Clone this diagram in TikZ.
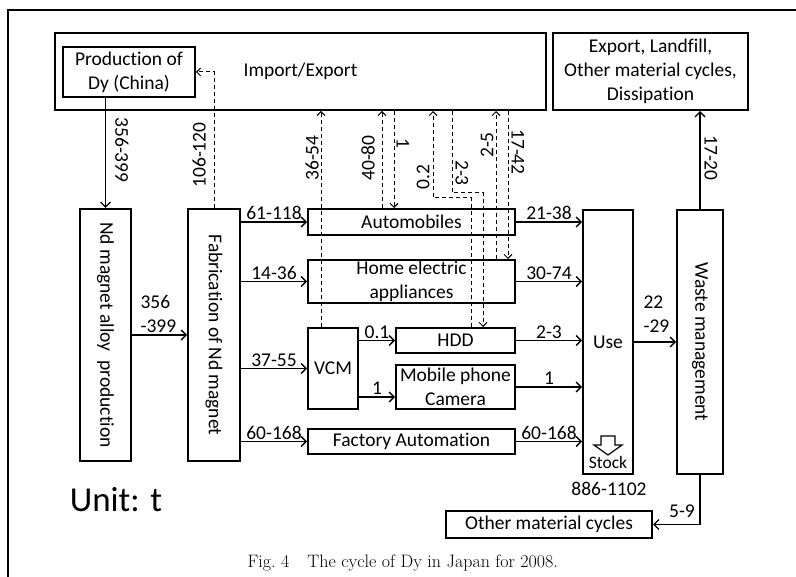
\documentclass[tikz,border=0pt]{standalone}
\usepackage{fontspec}
\newfontfamily\carlito{Carlito}[Ligatures=NoCommon]
\usetikzlibrary{arrows.meta,positioning,calc}

\begin{document}
\begin{tikzpicture}[
      x=1pt,y=-1pt,
      every node/.style={font=\carlito\fontsize{19.5}{24}\selectfont},
      box/.style={draw,line width=2pt,inner sep=0pt},
      arr/.style={-{Straight Barb[length=5pt,width=10pt]},line width=1.3pt},
      darr/.style={-{Straight Barb[length=4pt,width=8pt]},line width=1pt,dash pattern=on 4pt off 3pt},
      lab/.style={inner sep=1.5pt}
    ]
      \useasboundingbox (0,0) rectangle (796,577);
      \draw[line width=2pt] (8,577) -- (8,10) -- (796,10);

      % top row
      \node[box,minimum width=491,minimum height=77] (imex) at (300.5,71.5) {Import/Export};
      \node[box,minimum width=132,minimum height=50,align=center] (prod) at (129,72) {Production of\\Dy (China)};
      \node[box,minimum width=195,minimum height=77,align=center] (dest) at (650.5,71.5) {Export, Landfill,\\Other material cycles,\\Dissipation};

      % tall boxes
      \node[box,minimum width=51,minimum height=252] (alloy) at (105.5,335) {};
      \node[rotate=-90] (alloylab) at (alloy) {Nd magnet alloy\ \ production};
      \node[box,minimum width=52,minimum height=252] (fab) at (214,335) {};
      \node[rotate=-90] (fablab) at (fab) {Fabrication of Nd magnet};
      \node[box,minimum width=50,minimum height=264] (use) at (608,342) {Use};
      \node[box,minimum width=46,minimum height=264] (waste) at (700,342) {};
      \node[rotate=-90] (wastelab) at (waste) {Waste management};

      % products
      \node[box,minimum width=207,minimum height=26] (auto) at (411.5,222) {Automobiles};
      \node[box,minimum width=207,minimum height=43] (home) at (411.5,281.5) {};
      \node[align=center] (homelab) at (home) {Home electric\\appliances};
      \node[box,minimum width=50,minimum height=81] (vcm) at (333,368.5) {VCM};
      \node[box,minimum width=119,minimum height=25] (hdd) at (455.5,340.5) {HDD};
      \node[box,minimum width=119,minimum height=44] (mobile) at (455.5,387) {};
      \node[align=center] (mobilelab) at (mobile) {Mobile phone\\Camera};
      \node[box,minimum width=207,minimum height=25] (fa) at (411.5,441.5) {Factory Automation};
      \node[box,minimum width=206,minimum height=27] (other) at (549,524.5) {Other material cycles};

      % main flows
      \draw[arr] (prod.south -| alloy) -- (alloy);
      \node[rotate=-90] (l356) at (122,150) {356-399};
      \draw[arr] (alloy) -- (fab);
      \node[align=left,anchor=west] (l356b) at (137,314) {356\\-399};
      \draw[arr] (fab.east |- auto) -- node[above,lab] (l61) {61-118} (auto);
      \draw[arr] (fab.east |- home) -- node[above,lab] (l14) {14-36} (home);
      \draw[arr] (fab.east |- vcm) -- node[above,lab] (l37) {37-55} (vcm);
      \draw[arr] (fab.east |- fa) -- node[above,lab] (l60) {60-168} (fa);
      \draw[arr] (vcm.east |- hdd) -- node[above,lab] (l01) {0.1} (hdd);
      \coordinate (mm) at ($(mobile.west)+(0,10)$);
      \draw[arr] (vcm.east |- mm) -- node[above,lab] (l1a) {1} (mm);
      \draw[arr] (auto) -- node[above,lab] (l21) {21-38} (auto -| use.west);
      \draw[arr] (home) -- node[above,lab] (l30) {30-74} (home -| use.west);
      \draw[arr] (hdd) -- node[above,lab] (l23) {2-3} (hdd -| use.west);
      \draw[arr] (mobile) -- node[above,lab] (l1b) {1} (mobile -| use.west);
      \draw[arr] (fa) -- node[above,lab] (l60b) {60-168} (fa -| use.west);
      \draw[arr] (use) -- (waste);
      \node[align=left,anchor=west] (l22) at (640,314) {22\\-29};
      \draw[arr] (waste) -- (waste |- dest.south);
      \node[rotate=-90] (l17) at (711,158) {17-20};
      \draw[arr] (waste) |- (other);
      \node (l59) at (682,511) {5-9};

      % stock
      \draw[line width=1.2pt] (601,436) -- (615,436) -- (615,445) -- (622,445) -- (608,455) -- (594,445) -- (601,445) -- cycle;
      \node[font=\carlito\fontsize{17.5}{20}\selectfont] (stock) at (608,462) {Stock};
      \node (l886) at (609,489) {886-1102};

      % import / export flows
      \coordinate (d1) at (321,0);
      \coordinate (d2) at (382,0);
      \coordinate (d3) at (394,0);
      \coordinate (d4) at (433,0);
      \coordinate (d5) at (452,0);
      \coordinate (d6) at (496,0);
      \coordinate (d7) at (508,0);
      \coordinate (h1) at (471,198);
      \coordinate (h2) at (483,193);
      \draw[darr] (fab.north) |- (prod.east);
      \node[rotate=90] (l106) at (199,155) {106-120};
      \draw[darr] (vcm.north -| d1) -- (imex.south -| d1);
      \node[rotate=90] (l36) at (312,158) {36-54};
      \draw[darr] (auto.north -| d2) -- (imex.south -| d2);
      \node[rotate=90] (l40) at (368,158) {40-80};
      \draw[darr] (imex.south -| d3) -- (auto.north -| d3);
      \node[rotate=-90] (l1c) at (403,143) {1};
      \draw[darr] (hdd.north -| h1) -- (h1) -| (imex.south -| d4);
      \node[rotate=90] (l02) at (423,177) {0.2};
      \draw[darr] (imex.south -| d5) |- (h2) -- (hdd.north -| h2);
      \node[rotate=-90] (l23b) at (462,173) {2-3};
      \draw[darr] (home.north -| d6) -- (imex.south -| d6);
      \node[rotate=90] (l25) at (487,145) {2-5};
      \draw[darr] (imex.south -| d7) -- (home.north -| d7);
      \node[rotate=-90] (l1742) at (518,152) {17-42};

      \node[font=\carlito\fontsize{35}{40}\selectfont] (unit) at (116,500) {Unit: t};
      \node[font=\rmfamily\fontsize{18}{22}\selectfont,anchor=west] (cap) at (244,563) {Fig.~4\quad The cycle of Dy in Japan for 2008.};
    \end{tikzpicture}
\end{document}
